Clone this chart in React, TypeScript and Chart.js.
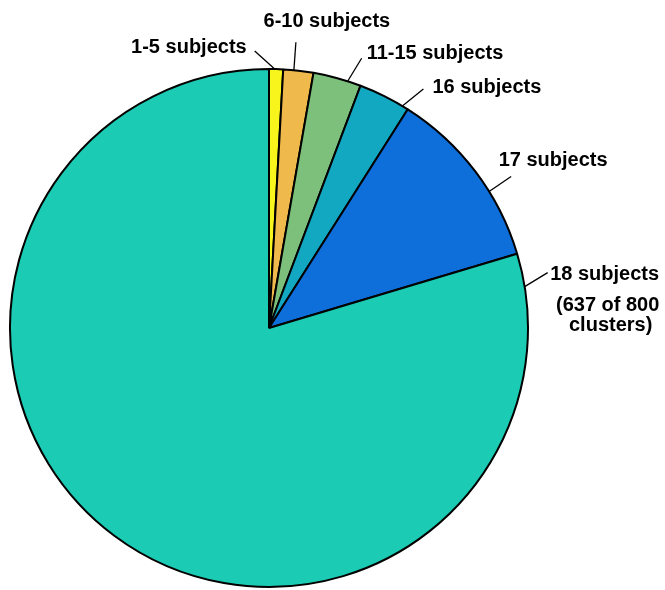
import React, { useEffect, useRef } from 'react';
import { Chart, registerables } from 'chart.js';

Chart.register(...registerables);

// ---- data ----
const categories = ['1-5 subjects', '6-10 subjects', '11-15 subjects', '16 subjects', '17 subjects', '18 subjects'];
const clusterCounts = [7, 15, 24, 26, 91, 637];
const totalClusters = 800;
const extraLines = [[], [], [], [], [], [`(${clusterCounts[5]} of ${totalClusters}`, 'clusters)']];

// ---- styles ----
const sliceColors = ['#f8f51c', '#f0b94c', '#7cc07c', '#12a8c2', '#0e6fda', '#1ccbb4'];

// label layout: where the leader touches the slice (fraction of its angle), leader end offset, text offset
const labelLayout = [
  { frac: 0.4, ldx: -20, ldy: -18, tdx: -8, tdy: 2, align: 'right' },
  { frac: 0.35, ldx: 2, ldy: -28, tdx: 31, tdy: -15, align: 'center' },
  { frac: 0.72, ldx: 14, ldy: -23, tdx: 5, tdy: 1, align: 'left' },
  { frac: 0.88, ldx: 21, ldy: -17, tdx: 9, tdy: 4, align: 'left' },
  { frac: 0.63, ldx: 22, ldy: -15, tdx: 42, tdy: -11, align: 'center' },
  { frac: 0.026, ldx: 23, ldy: -14, tdx: 57, tdy: 7, align: 'center' },
];
const lineOffsetY = [0, 31, 51];
const lineOffsetX = [0, 3, 6];

const labelPlugin = {
  id: 'leaderLabels',
  afterDraw(chart: any) {
    const ctx = chart.ctx;
    const meta = chart.getDatasetMeta(0);
    ctx.save();
    ctx.font = "bold 20px 'Liberation Sans', Arial, Helvetica, sans-serif";
    ctx.fillStyle = '#000';
    ctx.strokeStyle = '#000';
    ctx.lineWidth = 1.3;
    meta.data.forEach((arc: any, i: number) => {
      const { x, y, startAngle, endAngle, outerRadius } = arc.getProps(['x', 'y', 'startAngle', 'endAngle', 'outerRadius'], true);
      const L = labelLayout[i];
      const a = startAngle + (endAngle - startAngle) * L.frac;
      const ax = x + Math.cos(a) * outerRadius;
      const ay = y + Math.sin(a) * outerRadius;
      const ex = ax + L.ldx;
      const ey = ay + L.ldy;
      ctx.beginPath();
      ctx.moveTo(ax, ay);
      ctx.lineTo(ex, ey);
      ctx.stroke();
      ctx.textAlign = L.align;
      ctx.textBaseline = 'alphabetic';
      const lines = [categories[i], ...extraLines[i]];
      lines.forEach((t, j) => {
        ctx.fillText(t, ex + L.tdx + lineOffsetX[j], ey + L.tdy + lineOffsetY[j]);
      });
    });
    ctx.restore();
  },
};

export default function App() {
  const ref = useRef<HTMLCanvasElement>(null);
  useEffect(() => {
    if (!ref.current) return;
    const chart = new Chart(ref.current, {
      type: 'pie',
      data: {
        labels: categories,
        datasets: [
          {
            data: clusterCounts,
            backgroundColor: sliceColors,
            borderColor: '#000',
            borderWidth: 2,
          },
        ],
      },
      options: {
        responsive: false,
        animation: false,
        events: [],
        layout: { padding: { left: 9, right: 136, top: 68, bottom: 2 } },
        plugins: { legend: { display: false }, tooltip: { enabled: false } },
      },
      plugins: [labelPlugin],
    });
    return () => chart.destroy();
  }, []);
  return (
    <div style={{ position: 'absolute', left: 0, top: 0, width: 665, height: 590, background: '#fff' }}>
      <canvas ref={ref} width={665} height={590} style={{ width: 665, height: 590 }} />
    </div>
  );
}
